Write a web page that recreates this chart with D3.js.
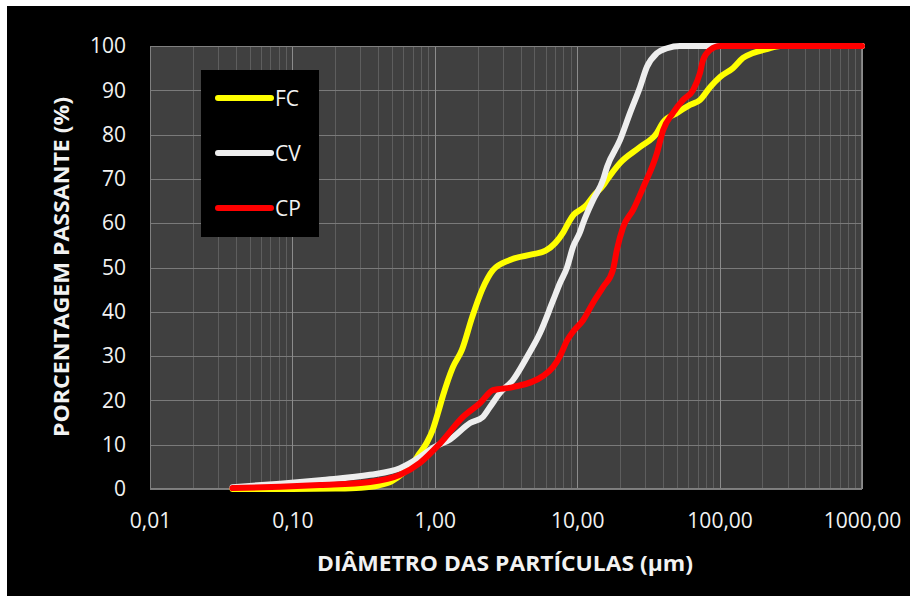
<!DOCTYPE html>
<html>
<head>
<meta charset="utf-8">
<script src="https://cdn.jsdelivr.net/npm/d3@7"></script>
<style>
  html, body { margin: 0; padding: 0; background: #ffffff; }
  svg { display: block; }
  text { font-family: "Open Sans", "Noto Sans", sans-serif; }
</style>
</head>
<body>
<div id="chart"></div>
<script>
// series names
var seriesNames = ['FC', 'CV', 'CP'];

// particle diameter (µm) and passing percentage
var diamFC = [0.038, 0.1, 0.2, 0.3, 0.4, 0.5, 0.6, 0.7, 0.78, 0.88, 0.97, 1.06, 1.14, 1.34, 1.55, 1.83, 2.15, 2.56, 3.37, 4.9, 6.0, 7.0, 8.0, 8.9, 9.5, 10.5, 11.7, 12.9, 15.2, 16.2, 20.0, 27.6, 36.3, 40.1, 50.2, 61.9, 72.8, 85.7, 100.7, 124, 146, 172, 215, 266, 1000];
var passFC = [0, 0, 0.1, 0.3, 0.8, 1.8, 3.6, 5.8, 8, 10.5, 13.5, 17.5, 21, 27.5, 31.4, 38.8, 45, 49.4, 51.7, 53, 53.8, 55.5, 58, 60.7, 62, 63, 64.2, 66, 68.5, 69.8, 73.6, 77.2, 80.4, 82.8, 84.9, 86.7, 87.8, 90.7, 93, 95, 97.3, 98.4, 99.3, 100, 100];

var diamCV = [0.038, 0.082, 0.156, 0.351, 0.57, 0.787, 0.97, 1.28, 1.77, 2.18, 2.44, 2.87, 3.54, 4.44, 5.48, 6.76, 7.57, 8.48, 9.34, 10.47, 11.0, 12.9, 15.2, 16.2, 20.0, 23.5, 27.6, 30.9, 36.3, 42.8, 52.7, 1000];
var passCV = [0.4, 1.2, 2, 3.2, 4.7, 7.2, 9.3, 11.2, 14.9, 16.3, 18.5, 21.7, 24.6, 29.8, 35.2, 42.5, 46.5, 50, 54.6, 58, 60, 65.2, 69.8, 72.7, 78.8, 84.9, 90.7, 95.3, 98.4, 99.5, 100, 100];

var diamCP = [0.038, 0.082, 0.156, 0.351, 0.57, 0.787, 1.09, 1.58, 2.08, 2.56, 3.54, 5.75, 6.76, 7.57, 8.48, 9.34, 11.0, 12.9, 15.2, 17.8, 19.0, 21.0, 24.7, 29.0, 36.3, 40.1, 47.1, 55.3, 65.0, 72.8, 76.4, 85.7, 100.7, 1000];
var passCP = [0.2, 0.5, 0.9, 1.6, 3.2, 5.9, 10.3, 16.3, 19.4, 22.3, 23, 25.5, 27.5, 30, 33.5, 35.5, 38.1, 42, 45.6, 49.4, 54, 59.1, 63, 68, 75.8, 81, 84.9, 87.8, 90, 93.9, 96.8, 99.1, 100, 100];

// axis ticks
var xTicks = [0.01, 0.1, 1, 10, 100, 1000];
var xTickLabels = ['0,01', '0,10', '1,00', '10,00', '100,00', '1000,00'];
var yTicks = [0, 10, 20, 30, 40, 50, 60, 70, 80, 90, 100];

var colors = { FC: '#ffff00', CV: '#eeeeee', CP: '#ff0000' };

var width = 910, height = 596;
var margin = { top: 46, right: 48, bottom: 107, left: 150 };
var chart_width = width - margin.left - margin.right;
var chart_height = height - margin.top - margin.bottom;

var svg = d3.select('#chart').append('svg')
    .attr('width', width)
    .attr('height', height);

// black card (white strip left / top like the picture)
svg.append('rect')
    .attr('x', 7).attr('y', 6)
    .attr('width', width - 7).attr('height', height - 6)
    .style('fill', '#000000');

var x = d3.scaleLog().domain([0.01, 1000]).range([margin.left, margin.left + chart_width]);
var y = d3.scaleLinear().domain([0, 100]).range([margin.top + chart_height, margin.top]);

// plot area
svg.append('rect')
    .attr('x', margin.left).attr('y', margin.top)
    .attr('width', chart_width).attr('height', chart_height)
    .style('fill', '#404040');

var crisp = function(v) { return Math.round(v) + 0.5; };

// minor vertical grid
var minor = [];
for (var k = -2; k < 3; k++) {
    for (var m = 2; m < 10; m++) minor.push(m * Math.pow(10, k));
}
var grid = svg.append('g').attr('class', 'grid');
grid.selectAll('.vminor').data(minor).enter().append('line')
    .attr('x1', function(d) { return crisp(x(d)); })
    .attr('x2', function(d) { return crisp(x(d)); })
    .attr('y1', margin.top).attr('y2', margin.top + chart_height)
    .style('stroke', '#5e5e5e').style('stroke-width', 1);

grid.selectAll('.h').data(yTicks).enter().append('line')
    .attr('x1', margin.left).attr('x2', margin.left + chart_width)
    .attr('y1', function(d) { return crisp(y(d)); })
    .attr('y2', function(d) { return crisp(y(d)); })
    .style('stroke', '#7a7a7a').style('stroke-width', 1);

grid.selectAll('.vmajor').data(xTicks).enter().append('line')
    .attr('x1', function(d) { return crisp(x(d)); })
    .attr('x2', function(d) { return crisp(x(d)); })
    .attr('y1', margin.top).attr('y2', margin.top + chart_height)
    .style('stroke', '#8c8c8c').style('stroke-width', 1);

svg.append('rect')
    .attr('x', margin.left + 0.5).attr('y', margin.top + 0.5)
    .attr('width', chart_width - 1).attr('height', chart_height - 1)
    .style('fill', 'none').style('stroke', '#808080');

// axes
var yAxis = svg.append('g')
    .attr('transform', 'translate(' + margin.left + ',0)')
    .call(d3.axisLeft(y).tickValues(yTicks).tickSize(0).tickPadding(24));
var xAxis = svg.append('g')
    .attr('transform', 'translate(0,' + (margin.top + chart_height) + ')')
    .call(d3.axisBottom(x).tickValues(xTicks).tickSize(0).tickPadding(24)
        .tickFormat(function(d, i) { return xTickLabels[i]; }));
[xAxis, yAxis].forEach(function(a) {
    a.select('.domain').remove();
    a.selectAll('text')
        .style('font-size', '21px')
        .style('fill', '#f2f2f2')
        .style('font-family', '"Open Sans", sans-serif');
});

// titles
svg.append('text')
    .attr('x', 505).attr('y', 571)
    .attr('text-anchor', 'middle')
    .attr('textLength', 376).attr('lengthAdjust', 'spacingAndGlyphs')
    .style('font-size', '21px').style('font-weight', 'bold').style('fill', '#f2f2f2')
    .text('DIÂMETRO DAS PARTÍCULAS (µm)');

svg.append('text')
    .attr('transform', 'translate(69,267) rotate(-90)')
    .attr('text-anchor', 'middle')
    .attr('textLength', 340).attr('lengthAdjust', 'spacingAndGlyphs')
    .style('font-size', '21px').style('font-weight', 'bold').style('fill', '#f2f2f2')
    .text('PORCENTAGEM PASSANTE (%)');

// curves
var series = [
    { name: 'FC', diam: diamFC, pass: passFC },
    { name: 'CV', diam: diamCV, pass: passCV },
    { name: 'CP', diam: diamCP, pass: passCP }
];
var line = d3.line()
    .x(function(d) { return x(d[0]); })
    .y(function(d) { return y(d[1]); })
    .curve(d3.curveMonotoneX);

svg.append('g').selectAll('path').data(series).enter().append('path')
    .attr('d', function(s) { return line(d3.zip(s.diam, s.pass)); })
    .style('fill', 'none')
    .style('stroke', function(s) { return colors[s.name]; })
    .style('stroke-width', 6)
    .style('stroke-linecap', 'round')
    .style('stroke-linejoin', 'round');

// legend
var legend = svg.append('g');
legend.append('rect')
    .attr('x', 201).attr('y', 70).attr('width', 118).attr('height', 167)
    .style('fill', '#000000');
var item = legend.selectAll('.item').data(seriesNames).enter().append('g')
    .attr('transform', function(d, i) { return 'translate(0,' + (98 + i * 55) + ')'; });
item.append('line')
    .attr('x1', 218).attr('x2', 271)
    .style('stroke', function(d) { return colors[d]; })
    .style('stroke-width', 6).style('stroke-linecap', 'round');
item.append('text')
    .attr('x', 275).attr('dy', '0.36em')
    .style('font-size', '21px').style('fill', '#f2f2f2')
    .text(function(d) { return d; });
</script>
</body>
</html>
